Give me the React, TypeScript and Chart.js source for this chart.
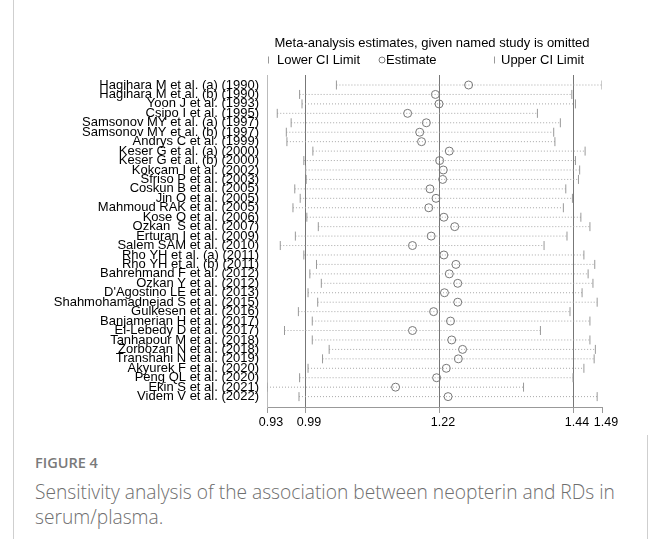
import React, { useEffect, useRef } from "react";
import { Chart, registerables } from "chart.js";

Chart.register(...registerables);

const STUDIES = [
  "Hagihara M et al. (a) (1990)",
  "Hagihara M et al. (b) (1990)",
  "Yoon J et al. (1993)",
  "Csipo I et al. (1995)",
  "Samsonov MY et al. (a) (1997)",
  "Samsonov MY et al. (b) (1997)",
  "Andrys C et al. (1999)",
  "Keser G et al. (a) (2000)",
  "Keser G et al. (b) (2000)",
  "Kokcam I et al. (2002)",
  "Sfriso P et al. (2003)",
  "Coskun B et al. (2005)",
  "Jin O et al. (2005)",
  "Mahmoud RAK et al. (2005)",
  "Kose O et al. (2006)",
  "Ozkan  S et al. (2007)",
  "Erturan I et al. (2009)",
  "Salem SAM et al. (2010)",
  "Rho YH et al. (a) (2011)",
  "Rho YH et al. (b) (2011)",
  "Bahrehmand F et al. (2012)",
  "Ozkan Y et al. (2012)",
  "D'Agostino LE et al. (2013)",
  "Shahmohamadnejad S et al. (2015)",
  "Gulkesen et al. (2016)",
  "Banjamerian H et al. (2017)",
  "El-Lebedy D et al. (2017)",
  "Tanhapour M et al. (2018)",
  "Zorbozan N et al. (2018)",
  "Transhahi N et al. (2019)",
  "Akyurek F et al. (2020)",
  "Peng QL et al. (2020)",
  "Ekin S et al. (2021)",
  "Videm V et al. (2022)",
];

const LOWER = [1.046, 0.985, 0.989, 0.948, 0.971, 0.963, 0.964, 1.007, 0.992, 0.995, 0.996, 0.977, 0.986, 0.974, 0.997, 1.016, 0.978, 0.953, 0.992, 1.013, 1.002, 1.021, 0.999, 1.015, 0.983, 1.006, 0.96, 1.006, 1.034, 1.023, 0.999, 0.985, 0.931, 0.984];
const ESTIMATE = [1.265, 1.21, 1.216, 1.164, 1.195, 1.184, 1.187, 1.233, 1.217, 1.223, 1.222, 1.201, 1.211, 1.199, 1.224, 1.242, 1.203, 1.172, 1.224, 1.244, 1.233, 1.247, 1.225, 1.247, 1.207, 1.235, 1.172, 1.237, 1.255, 1.248, 1.228, 1.212, 1.144, 1.231];
const UPPER = [1.486, 1.436, 1.442, 1.379, 1.417, 1.406, 1.408, 1.458, 1.442, 1.449, 1.447, 1.426, 1.437, 1.422, 1.451, 1.466, 1.428, 1.39, 1.456, 1.474, 1.463, 1.471, 1.453, 1.478, 1.433, 1.466, 1.384, 1.466, 1.475, 1.473, 1.456, 1.438, 1.356, 1.478];

const X_TICKS = [0.931, 0.994, 1.216, 1.438, 1.486];
const X_TICK_LABELS = ["0.93", "0.99", "1.22", "1.44", "1.49"];

const TITLE = "Meta-analysis estimates, given named study is omitted";
const LEGEND_LOWER = "Lower CI Limit";
const LEGEND_EST = "Estimate";
const LEGEND_UPPER = "Upper CI Limit";

const FONT = "'Liberation Sans', Arial, sans-serif";

const legendPlugin = {
  id: "stataLegend",
  afterDraw(chart: any) {
    const ctx = chart.ctx;
    const a = chart.chartArea;
    ctx.save();
    ctx.fillStyle = "#000";
    ctx.font = `13px ${FONT}`;
    ctx.textBaseline = "middle";
    ctx.textAlign = "center";
    ctx.fillText(TITLE, 432, 43);
    ctx.textAlign = "left";
    const y = 60;
    ctx.strokeStyle = "#999";
    ctx.lineWidth = 1;
    ctx.beginPath();
    ctx.moveTo(a.left + 1.5, y - 3.5);
    ctx.lineTo(a.left + 1.5, y + 3.5);
    ctx.stroke();
    ctx.fillText(LEGEND_LOWER, a.left + 10, y);
    ctx.beginPath();
    ctx.arc(a.left + 115, y, 3, 0, Math.PI * 2);
    ctx.strokeStyle = "#777";
    ctx.stroke();
    ctx.fillText(LEGEND_EST, a.left + 119, y);
    ctx.strokeStyle = "#999";
    ctx.beginPath();
    ctx.moveTo(a.left + 227.5, y - 3.5);
    ctx.lineTo(a.left + 227.5, y + 3.5);
    ctx.stroke();
    ctx.fillText(LEGEND_UPPER, a.left + 234, y);
    ctx.restore();
  },
};

function ForestChart() {
  const ref = useRef<HTMLCanvasElement | null>(null);
  useEffect(() => {
    if (!ref.current) return;
    const lineData: any[] = [];
    STUDIES.forEach((_, i) => {
      lineData.push({ x: LOWER[i], y: i });
      lineData.push({ x: UPPER[i], y: i });
      lineData.push({ x: null, y: null });
    });
    const chart = new Chart(ref.current, {
      type: "scatter",
      data: {
        datasets: [
          {
            label: "CI",
            data: lineData,
            showLine: true,
            spanGaps: false,
            borderColor: "#a8a8a8",
            borderWidth: 1,
            borderDash: [1, 2],
            pointRadius: 0,
            order: 4,
          },
          {
            label: LEGEND_LOWER,
            data: STUDIES.map((_, i) => ({ x: LOWER[i], y: i })),
            pointStyle: "line",
            rotation: 90,
            pointRadius: 4.5,
            borderColor: "#999",
            borderWidth: 1,
            order: 3,
          },
          {
            label: LEGEND_UPPER,
            data: STUDIES.map((_, i) => ({ x: UPPER[i], y: i })),
            pointStyle: "line",
            rotation: 90,
            pointRadius: 4.5,
            borderColor: "#999",
            borderWidth: 1,
            order: 2,
          },
          {
            label: LEGEND_EST,
            data: STUDIES.map((_, i) => ({ x: ESTIMATE[i], y: i })),
            pointStyle: "circle",
            pointRadius: 4,
            borderColor: "#777",
            backgroundColor: "rgba(255,255,255,0)",
            borderWidth: 1,
            order: 1,
          },
        ],
      },
      options: {
        responsive: false,
        animation: false,
        devicePixelRatio: 1,
        layout: { padding: { left: 0, right: 56, top: 75, bottom: 13 } },
        plugins: {
          legend: { display: false },
          tooltip: { enabled: false },
          title: { display: false },
        },
        scales: {
          x: {
            type: "linear",
            min: 0.931,
            max: 1.486,
            afterFit: (s: any) => {
              s.height = 20;
            },
            afterBuildTicks: (s: any) => {
              s.ticks = X_TICKS.map((v) => ({ value: v }));
            },
            ticks: {
              autoSkip: false,
              maxRotation: 0,
              padding: 2,
              labelOffset: 4,
              color: "#000",
              font: { family: FONT, size: 12.5 },
              callback: (_v: any, i: number) => X_TICK_LABELS[i],
            },
            grid: {
              color: (c: any) =>
                c.index === 0 || c.index === X_TICKS.length - 1 ? "rgba(0,0,0,0)" : "#777",
              tickColor: "#999",
              tickLength: 6,
              lineWidth: 1,
            },
            border: { display: true, color: "#999" },
          },
          y: {
            type: "linear",
            reverse: true,
            min: -1.06,
            max: 34.1,
            afterFit: (s: any) => {
              s.width = 267;
            },
            afterBuildTicks: (s: any) => {
              s.ticks = STUDIES.map((_, i) => ({ value: i }));
            },
            ticks: {
              autoSkip: false,
              padding: 8,
              color: "#000",
              font: { family: FONT, size: 13 },
              callback: (_v: any, i: number) => STUDIES[i],
            },
            grid: { display: false, drawTicks: false },
            border: { display: true, color: "#bbb" },
          },
        },
      },
      plugins: [legendPlugin],
    });
    return () => chart.destroy();
  }, []);
  return <canvas ref={ref} width={658} height={440} style={{ display: "block" }} />;
}

export default function App() {
  return (
    <div
      style={{
        position: "absolute",
        left: 0,
        top: 0,
        width: 658,
        height: 539,
        background: "#fff",
        overflow: "hidden",
      }}
    >
      <ForestChart />
      <div
        style={{
          position: "absolute",
          left: 13,
          top: 0,
          width: 1,
          height: 539,
          background: "#cfcfcf",
        }}
      />
      <div
        style={{
          position: "absolute",
          left: 647,
          top: 435,
          width: 1,
          height: 104,
          background: "#cfcfcf",
        }}
      />
      <div
        style={{
          position: "absolute",
          left: 35,
          top: 453,
          fontFamily: "'Open Sans', sans-serif",
          fontWeight: 600,
          fontSize: 14.5,
          lineHeight: "20px",
          color: "#7a7a7a",
          whiteSpace: "nowrap",
        }}
      >
        FIGURE 4
      </div>
      <div
        style={{
          position: "absolute",
          left: 35,
          top: 479,
          fontFamily: "'Open Sans', sans-serif",
          fontWeight: 300,
          fontSize: 19.2,
          lineHeight: "25px",
          color: "#6e6e6e",
          whiteSpace: "nowrap",
        }}
      >
        Sensitivity analysis of the association between neopterin and RDs in
        <br />
        serum/plasma.
      </div>
    </div>
  );
}
